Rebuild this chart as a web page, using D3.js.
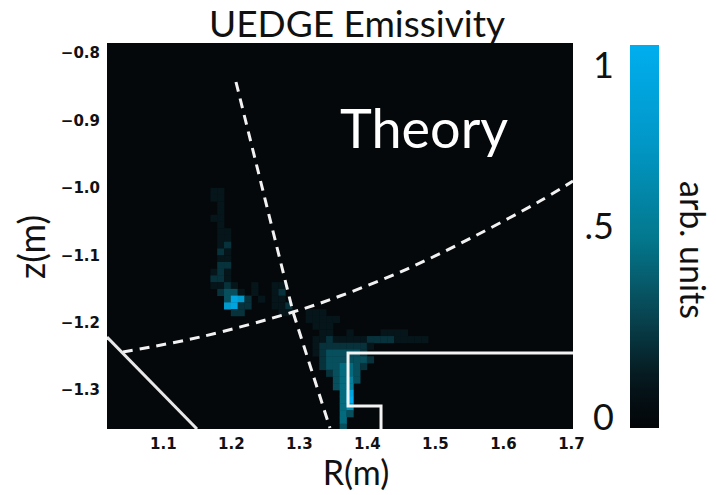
<!DOCTYPE html>
<html>
<head>
<meta charset="utf-8">
<script src="https://cdn.jsdelivr.net/npm/d3@7"></script>
<style>
  body { margin: 0; background: #fff; }
  .tick text { font-family: "DejaVu Sans", sans-serif; font-weight: bold; font-size: 15px; fill: #111; }
</style>
</head>
<body>
<div id="chart"></div>
<script>
// axis ticks (R in m, z in m)
const rTicks = [1.1, 1.2, 1.3, 1.4, 1.5, 1.6, 1.7];
const zTicks = [-1.3, -1.2, -1.1, -1.0, -0.9, -0.8];
const rDomain = [1.018, 1.703];
const zDomain = [-1.358, -0.785];

// emissivity grid: 1 cm cells, row 0 starts at z=-1.00 and goes down,
// each row lists levels 0..9 from column emisRowStart (col 0 = R 1.16)
const gridR0 = 1.16;
const gridZ0 = -1.0;
const gridStep = 0.01;
const levelMax = 9;
const emisRowStart = [1, 1, 2, 2, 1, 2, 2, 2, 2, 2, 2, 2, 1, 1, 1, 2, 3, 3,
  4, 15, 16, 17, 16, 16, 16, 17, 17, 18, 19, 19, 20, 20, 20, 20, 20, 20];
const emisRowLevels = ["11", "11", "1", "1", "11", "1", "11", "11", "12", "21",
  "11", "22", "121", "221", "11210010011", "2331010012", "387201011",
  "7822000112", "22000001100111", "11111", "111", "1100100001111",
  "11211111222211111", "122222221", "12333332", "23333332", "2334432",
  "23443", "3453", "345", "48", "49", "46", "43", "4", "3"];

// separatrix (dashed) and wall (solid)
const sepLegR = [1.2076, 1.2914, 1.3458];
const sepLegZ = [-0.8429, -1.1843, -1.3566];
const sepCoreR = [1.0415, 1.1547, 1.2914, 1.3605, 1.459, 1.556, 1.6545, 1.703];
const sepCoreZ = [-1.2437, -1.2215, -1.1843, -1.1606, -1.1205, -1.073, -1.0196, -0.9899];
const wallInnerR = [1.018, 1.1503];
const wallInnerZ = [-1.2215, -1.358];
const wallOuterR = [1.71, 1.3723, 1.3723, 1.4208, 1.4208];
const wallOuterZ = [-1.2452, -1.2452, -1.3239, -1.3239, -1.37];

// colorbar
const cbarTicks = [0, 0.5, 1];
const cbarLabels = ["0", ".5", "1"];

const width = 716, height = 495;
const plot = { left: 107, right: 573, top: 43, bottom: 429 };
const bar = { left: 630, right: 659, top: 45, bottom: 428 };

const x = d3.scaleLinear().domain(rDomain).range([plot.left, plot.right]);
const y = d3.scaleLinear().domain(zDomain).range([plot.bottom, plot.top]);

const color = d3.scaleLinear()
  .domain([0, 0.12, 0.3, 0.5, 0.75, 1])
  .range(["#030508", "#05161b", "#084653", "#03798f", "#0198c8", "#00aeef"])
  .interpolate(d3.interpolateRgb);

const svg = d3.select("#chart").append("svg")
  .attr("width", width)
  .attr("height", height);

const defs = svg.append("defs");
defs.append("clipPath").attr("id", "plotclip")
  .append("rect")
  .attr("x", plot.left).attr("y", plot.top)
  .attr("width", plot.right - plot.left).attr("height", plot.bottom - plot.top);

svg.append("rect")
  .attr("x", plot.left).attr("y", plot.top)
  .attr("width", plot.right - plot.left).attr("height", plot.bottom - plot.top)
  .attr("fill", "#05080b");

// build cells from rows
const cells = emisRowLevels.flatMap((row, r) =>
  row.split("").map((ch, i) => ({
    R: gridR0 + (emisRowStart[r] + i) * gridStep,
    z: gridZ0 - r * gridStep,
    v: +ch / levelMax
  })).filter(d => d.v > 0)
);

const inner = svg.append("g").attr("clip-path", "url(#plotclip)");

inner.selectAll("rect.cell")
  .data(cells)
  .enter()
  .append("rect")
  .attr("class", "cell")
  .attr("x", d => x(d.R))
  .attr("y", d => y(d.z))
  .attr("width", d => x(d.R + gridStep) - x(d.R) + 0.4)
  .attr("height", d => y(d.z - gridStep) - y(d.z) + 0.4)
  .attr("fill", d => color(d.v));

const line = d3.line().x(d => x(d[0])).y(d => y(d[1]));
const zip = (a, b) => a.map((v, i) => [v, b[i]]);

inner.append("path")
  .attr("d", line.curve(d3.curveLinear)(zip(sepLegR, sepLegZ)))
  .attr("fill", "none").attr("stroke", "#f2f2f2")
  .attr("stroke-width", 3).attr("stroke-dasharray", "10,7");

inner.append("path")
  .attr("d", line.curve(d3.curveCatmullRom)(zip(sepCoreR, sepCoreZ)))
  .attr("fill", "none").attr("stroke", "#f2f2f2")
  .attr("stroke-width", 3).attr("stroke-dasharray", "10,7");

inner.append("path")
  .attr("d", line.curve(d3.curveLinear)(zip(wallInnerR, wallInnerZ)))
  .attr("fill", "none").attr("stroke", "#e8e8e8").attr("stroke-width", 3);

inner.append("path")
  .attr("d", line.curve(d3.curveLinear)(zip(wallOuterR, wallOuterZ)))
  .attr("fill", "none").attr("stroke", "#f4f4f4").attr("stroke-width", 3);

// axes
const fmt = d3.format(".1f");
const xAxis = svg.append("g")
  .attr("transform", `translate(0,${plot.bottom})`)
  .call(d3.axisBottom(x).tickValues(rTicks).tickSize(0).tickPadding(9).tickFormat(fmt));
xAxis.select(".domain").remove();

const yAxis = svg.append("g")
  .attr("transform", `translate(${plot.left},0)`)
  .call(d3.axisLeft(y).tickValues(zTicks).tickSize(0).tickPadding(7).tickFormat(fmt));
yAxis.select(".domain").remove();

// texts
const font = "Lato, 'Open Sans', sans-serif";
svg.append("text")
  .attr("x", 357).attr("y", 37)
  .attr("text-anchor", "middle")
  .attr("font-family", font).attr("font-size", 37).attr("fill", "#111")
  .text("UEDGE Emissivity");

svg.append("text")
  .attr("x", 340).attr("y", 148)
  .attr("font-family", font).attr("font-size", 54).attr("fill", "#fff")
  .text("Theory");

svg.append("text")
  .attr("x", 356).attr("y", 485)
  .attr("text-anchor", "middle")
  .attr("font-family", font).attr("font-size", 34).attr("fill", "#111")
  .text("R(m)");

svg.append("text")
  .attr("transform", "translate(45,247) rotate(-90)")
  .attr("text-anchor", "middle")
  .attr("font-family", font).attr("font-size", 36).attr("fill", "#111")
  .text("z(m)");

// colorbar
const cy = d3.scaleLinear().domain([0, 1]).range([bar.bottom, bar.top]);
const grad = defs.append("linearGradient").attr("id", "cbar")
  .attr("x1", 0).attr("y1", 1).attr("x2", 0).attr("y2", 0);
grad.selectAll("stop")
  .data(d3.range(0, 1.0001, 0.05))
  .enter().append("stop")
  .attr("offset", d => d)
  .attr("stop-color", d => color(d));

svg.append("rect")
  .attr("x", bar.left).attr("y", bar.top)
  .attr("width", bar.right - bar.left).attr("height", bar.bottom - bar.top)
  .attr("fill", "url(#cbar)");

svg.selectAll("text.cbl")
  .data(cbarTicks)
  .enter().append("text")
  .attr("class", "cbl")
  .attr("x", 614)
  .attr("y", d => Math.max(cy(d) + 2, bar.top + 33))
  .attr("text-anchor", "end")
  .attr("font-family", font).attr("font-size", 36).attr("fill", "#111")
  .text((d, i) => cbarLabels[i]);

svg.append("text")
  .attr("transform", "translate(680,250) rotate(90)")
  .attr("text-anchor", "middle")
  .attr("font-family", font).attr("font-size", 34).attr("fill", "#111")
  .text("arb. units");
</script>
</body>
</html>
